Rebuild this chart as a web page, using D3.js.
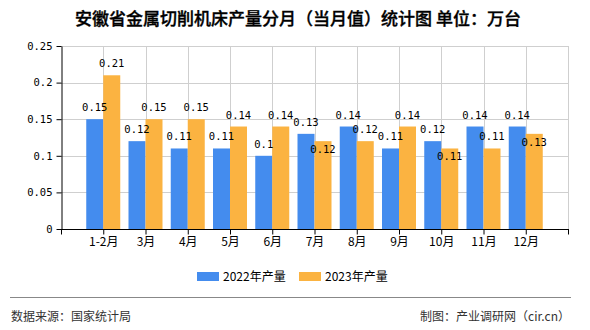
<!DOCTYPE html>
<html><head><meta charset="utf-8">
<script src="https://cdn.jsdelivr.net/npm/d3@7"></script>
<style>
html,body{margin:0;padding:0;background:#fff;}
svg{display:block;}
</style></head>
<body>
<div id="chart"></div>
<script>
const categories = ["1-2月","3月","4月","5月","6月","7月","8月","9月","10月","11月","12月"];
const values2022 = [0.15,0.12,0.11,0.11,0.10,0.13,0.14,0.11,0.12,0.14,0.14];
const values2023 = [0.21,0.15,0.15,0.14,0.14,0.12,0.12,0.14,0.11,0.11,0.13];
const seriesNames = ["2022年产量","2023年产量"];
const yTicks = [0,0.05,0.1,0.15,0.2,0.25];
const titleText = "安徽省金属切削机床产量分月（当月值）统计图 单位：万台";
const sourceText = "数据来源：国家统计局";
const creditText = "制图：产业调研网（cir.cn）";

const W = 590, H = 330;
const colors = ["#448cee", "#fbb341"];
const numFont = "'DejaVu Sans Mono', 'Liberation Mono', monospace";
const cjkFont = "'Noto Sans CJK SC', 'Noto Sans', sans-serif";

const svg = d3.select("#chart").append("svg").attr("width", W).attr("height", H)
  .style("background", "#fff");

const plot = {left: 61, right: 568, top: 46, bottom: 229};

const x = d3.scalePoint().domain(categories).range([plot.left, plot.right]).padding(1);
const step = x.step();
const y = d3.scaleLinear().domain([0, 0.25]).range([plot.bottom, plot.top]);
const xs = d3.scaleBand().domain([0,1]).range([-17, 17]).padding(0);

// title
svg.append("text").attr("x", 298).attr("y", 25).attr("text-anchor", "middle")
  .attr("font-family", cjkFont).attr("font-size", 17).attr("font-weight", 500)
  .attr("fill", "#000").attr("stroke", "#000").attr("stroke-width", 0.35).text(titleText);

// gridlines
const grid = svg.append("g");
grid.selectAll("line.h").data(yTicks.filter(d => d > 0)).enter().append("line")
  .attr("x1", plot.left).attr("x2", plot.right)
  .attr("y1", d => Math.round(y(d)) + 0.5).attr("y2", d => Math.round(y(d)) + 0.5)
  .attr("stroke", "#cfcfcf").attr("stroke-width", 1);
const boundaries = d3.range(categories.length + 2).map(k => plot.left + k * step);
grid.selectAll("line.v").data(boundaries.slice(1)).enter().append("line")
  .attr("x1", d => Math.round(d) + 0.5).attr("x2", d => Math.round(d) + 0.5)
  .attr("y1", plot.top).attr("y2", plot.bottom)
  .attr("stroke", "#cfcfcf").attr("stroke-width", 1);

// bars
const rows = categories.map((c, i) => ({c, v: [values2022[i], values2023[i]]}));
const g = svg.append("g");
rows.forEach(r => {
  r.v.forEach((v, s) => {
    g.append("rect")
      .attr("x", x(r.c) + xs(s)).attr("width", xs.bandwidth())
      .attr("y", y(v)).attr("height", y(0) - y(v))
      .attr("fill", colors[s]);
  });
});

// axes
const yAxis = d3.axisLeft(y).tickValues(yTicks).tickSize(5).tickSizeOuter(0)
  .tickFormat(d => d === 0 ? "0" : String(+d.toFixed(2)));
const ya = svg.append("g").attr("transform", `translate(${plot.left + 0.5},0)`).call(yAxis);
ya.select(".domain").attr("stroke", "#000");
ya.selectAll(".tick line").attr("stroke", "#000");
ya.selectAll(".tick text").attr("font-family", numFont).attr("font-size", 10.5)
  .attr("fill", "#000").attr("x", -9);

const xAxis = d3.axisBottom(x).tickSize(5).tickSizeOuter(0);
const xa = svg.append("g").attr("transform", `translate(0,${plot.bottom + 0.5})`).call(xAxis);
xa.select(".domain").remove();
xa.append("line").attr("x1", plot.left).attr("x2", plot.right + 1)
  .attr("y1", 0).attr("y2", 0).attr("stroke", "#000");
xa.selectAll(".tick line").attr("stroke", "#000");
[boundaries[0], boundaries[boundaries.length - 1]].forEach(bx => {
  xa.append("line").attr("x1", Math.round(bx) + 0.5).attr("x2", Math.round(bx) + 0.5)
    .attr("y1", 0).attr("y2", 5).attr("stroke", "#000");
});
xa.selectAll(".tick text").attr("font-family", cjkFont).attr("font-size", 12)
  .attr("fill", "#000").attr("y", 8);

// value labels with simple overlap avoidance
const lab = svg.append("g").attr("font-family", numFont).attr("font-size", 10.5).attr("fill", "#000")
  .attr("text-anchor", "middle");
rows.forEach(r => {
  const pos = r.v.map((v, s) => ({v, s, cx: x(r.c) + xs(s) + xs.bandwidth() / 2, top: y(v), base: y(v) - 8}));
  const a = pos[0], b = pos[1];
  if (Math.abs(a.base - b.base) < 11) {
    const lower = a.v < b.v ? a : b;
    lower.base = lower.top + 12;
  }
  pos.forEach(p => {
    lab.append("text").attr("x", p.cx).attr("y", p.base)
      .text(String(+p.v.toFixed(2)));
  });
});

// legend
const leg = svg.append("g");
const legX = [197, 299];
seriesNames.forEach((n, i) => {
  leg.append("rect").attr("x", legX[i]).attr("y", 272).attr("width", 22).attr("height", 9)
    .attr("fill", colors[i]);
  leg.append("text").attr("x", legX[i] + 26).attr("y", 280.5)
    .attr("font-family", cjkFont).attr("font-size", 12).attr("fill", "#000").text(n);
});

// footer
svg.append("line").attr("x1", 10).attr("x2", 571).attr("y1", 297.5).attr("y2", 297.5)
  .attr("stroke", "#888").attr("stroke-width", 1.2);
svg.append("text").attr("x", 11).attr("y", 320.5).attr("font-family", cjkFont).attr("font-size", 12)
  .attr("fill", "#333").text(sourceText);
svg.append("text").attr("x", 570).attr("y", 320.5).attr("text-anchor", "end")
  .attr("font-family", cjkFont).attr("font-size", 12).attr("fill", "#333").text(creditText);
</script>
</body></html>
